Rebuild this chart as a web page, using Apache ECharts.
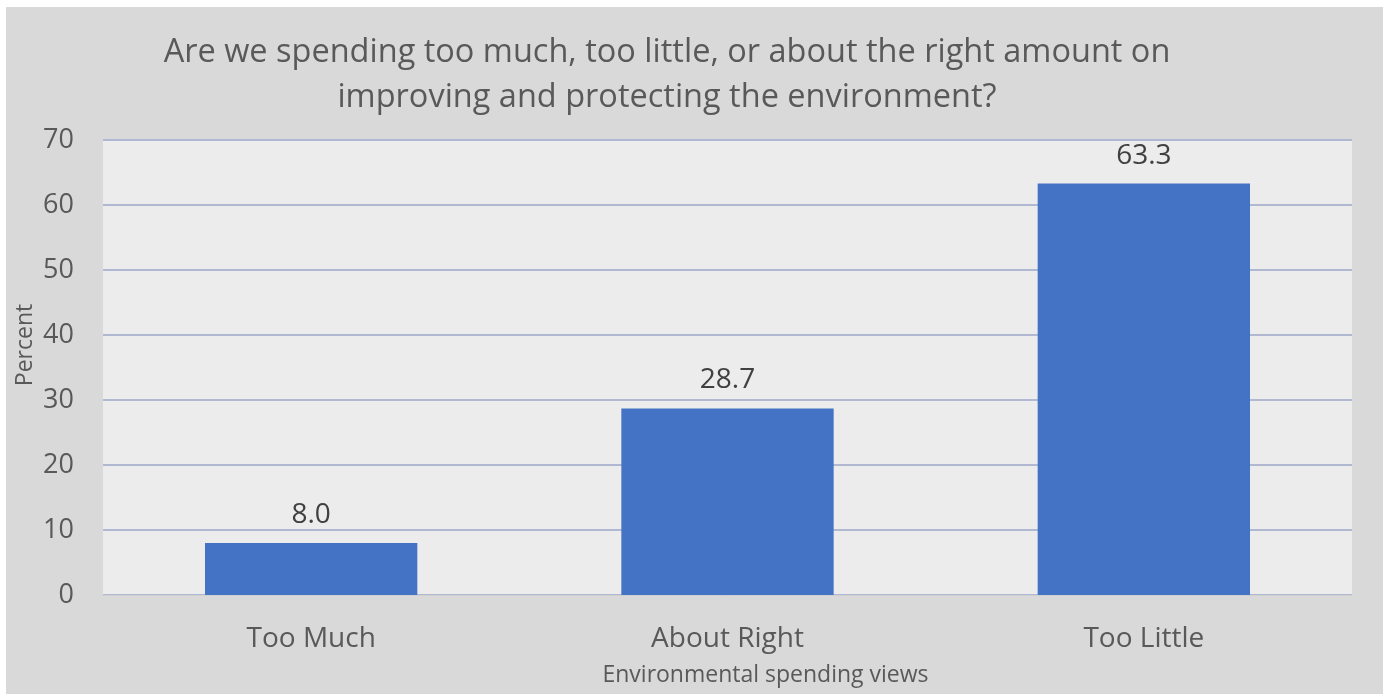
<!DOCTYPE html>
<html>
<head>
<meta charset="utf-8">
<script src="https://cdn.jsdelivr.net/npm/echarts@6/dist/echarts.min.js"></script>
<style>
  html, body { margin: 0; padding: 0; background: #ffffff; }
  #chart { position: absolute; left: 6px; top: 7px; width: 1377px; height: 687px; }
</style>
</head>
<body>
<div id="chart"></div>
<script>
// Survey responses on environmental spending
const categories = ['Too Much', 'About Right', 'Too Little'];
const percents = [8.0, 28.7, 63.3];
const titleLines = [
  'Are we spending too much, too little, or about the right amount on',
  'improving and protecting the environment?'
];
const yAxisTitle = 'Percent';

const FONT = '"Open Sans", Lato, sans-serif';
const chart = echarts.init(document.getElementById('chart'), null, { renderer: 'canvas' });

// Two-line title plus the rotated y-axis title
const graphics = titleLines.map((line, i) => ({
  type: 'text',
  x: 661,
  y: 46 + i * 45,
  style: {
    text: line,
    fill: '#595959',
    font: '32.5px ' + FONT,
    textAlign: 'center',
    textVerticalAlign: 'middle'
  }
}));
graphics.push({
  type: 'text',
  x: 19,
  y: 338,
  rotation: Math.PI / 2,
  style: {
    text: yAxisTitle,
    fill: '#595959',
    font: '23px ' + FONT,
    textAlign: 'center',
    textVerticalAlign: 'middle'
  }
});

chart.setOption({
  backgroundColor: '#d9d9d9',
  animation: false,
  graphic: graphics,
  grid: {
    left: 97, right: 31, top: 133, bottom: 99,
    outerBoundsMode: 'none',
    containLabel: false,
    show: true, backgroundColor: '#ececec', borderWidth: 0
  },
  xAxis: {
    type: 'category',
    data: categories,
    name: 'Environmental spending views',
    nameLocation: 'middle',
    nameGap: 69,
    nameMoveOverlap: false,
    nameTextStyle: { fontFamily: FONT, fontSize: 23, color: '#595959', padding: [0, 0, 0, 76] },
    axisTick: { show: false },
    axisLine: { lineStyle: { color: '#d0d0d0', width: 1 } },
    axisLabel: { fontFamily: FONT, fontSize: 28, color: '#595959', margin: 30 }
  },
  yAxis: {
    type: 'value',
    min: 0, max: 70, interval: 10,
    axisLine: { show: false },
    axisTick: { show: false },
    axisLabel: { fontFamily: FONT, fontSize: 27, color: '#595959', margin: 29 },
    splitLine: { lineStyle: { color: '#b1b9d2', width: 2 } }
  },
  series: [{
    type: 'bar',
    data: percents,
    barWidth: '51%',
    itemStyle: { color: '#4472c4' },
    label: {
      show: true,
      position: 'top',
      distance: 14,
      formatter: p => p.value.toFixed(1),
      fontFamily: FONT,
      fontSize: 28,
      color: '#404040'
    }
  }]
});
</script>
</body>
</html>
